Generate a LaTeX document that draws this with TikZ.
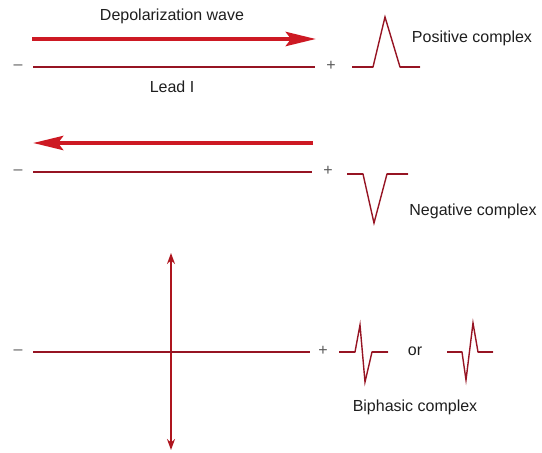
\documentclass[tikz,border=0pt]{standalone}
\usepackage{fontspec}
\setmainfont{Liberation Sans}
\usetikzlibrary{arrows.meta}
\definecolor{wavered}{RGB}{205,25,35}
\definecolor{leadred}{RGB}{150,20,35}
\definecolor{txt}{RGB}{30,30,30}
\definecolor{signcol}{RGB}{90,90,90}
\begin{document}
\begin{tikzpicture}[x=1pt,y=-1pt,
  font=\fontsize{16}{18}\selectfont,
  lbl/.style={text=txt, inner sep=0pt},
  sign/.style={text=signcol, inner sep=0pt},
  bigarrow/.style={wavered, line width=4.5pt, -{Stealth[length=30pt,width=14pt,inset=5pt]}},
  leadline/.style={leadred, line width=1.3pt},
  axisarrow/.style={wavered!85!black, line width=1.6pt, {Stealth[length=11pt,width=8pt]}-{Stealth[length=11pt,width=8pt]}},
  complex/.style={leadred, line width=1.4pt, line join=miter},
  flat/.style={leadred, line width=2.6pt}]
\path[use as bounding box] (0,0) rectangle (542,453);

% ---- top: positive ----
\node[lbl] (dw) at (172,16) {Depolarization wave};
\coordinate (a1s) at (32,39);
\coordinate (a1e) at (316,39);
\draw[bigarrow] (a1s) -- (a1e);
\node[sign] (m1) at (18,67) {–};
\node[sign] (p1) at (331,66) {+};
\coordinate (l1a) at (33,67);
\coordinate (l1b) at (315,67);
\draw[leadline] (l1a) -- (l1b);
\node[lbl] (leadI) at (172,87) {Lead I};
\draw[complex] (352,67) -- (373,67) -- (385,17) -- (400,67) -- (420,67);
\draw[flat] (352,67) -- (373,67);
\draw[flat] (400,67) -- (420,67);
\node[lbl] (pos) at (472,38) {Positive complex};

% ---- middle: negative ----
\coordinate (a2s) at (313,143);
\coordinate (a2e) at (33,143);
\draw[bigarrow] (a2s) -- (a2e);
\node[sign] (m2) at (18,172) {–};
\node[sign] (p2) at (328,171) {+};
\coordinate (l2a) at (33,172);
\coordinate (l2b) at (312,172);
\draw[leadline] (l2a) -- (l2b);
\draw[complex] (347,174) -- (363,174) -- (374,223) -- (387,174) -- (408,174);
\draw[flat] (347,174) -- (363,174);
\draw[flat] (387,174) -- (408,174);
\node[lbl] (neg) at (473,211) {Negative complex};

% ---- bottom: biphasic ----
\coordinate (v1) at (171,253);
\coordinate (v2) at (171,450);
\draw[axisarrow] (v1) -- (v2);
\node[sign] (m3) at (18,352) {–};
\node[sign] (p3) at (323,351) {+};
\coordinate (l3a) at (33,352);
\coordinate (l3b) at (310,352);
\draw[leadline] (l3a) -- (l3b);
\draw[complex] (339,352) -- (355,352) -- (360,325) -- (365,382) -- (372,352) -- (388,352);
\draw[flat] (339,352) -- (355,352);
\draw[flat] (372,352) -- (388,352);
\node[lbl] (or) at (415,351) {or};
\draw[complex] (447,352) -- (462,352) -- (466,380) -- (473,323) -- (478,352) -- (493,352);
\draw[flat] (447,352) -- (462,352);
\draw[flat] (478,352) -- (493,352);
\node[lbl] (bip) at (415,407) {Biphasic complex};
\end{tikzpicture}
\end{document}
